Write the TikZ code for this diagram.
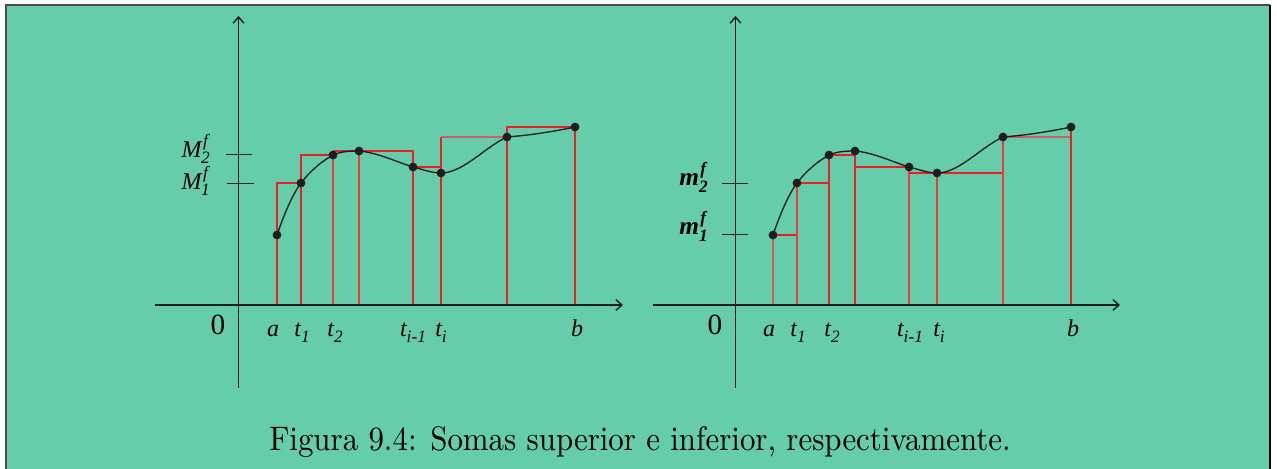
\documentclass[tikz,border=0pt]{standalone}
\usepackage{fontspec}
\usepackage{graphicx}
\usetikzlibrary{arrows.meta}
\newfontfamily\lbl{Liberation Serif}
\definecolor{bgc}{RGB}{102,205,170}
\definecolor{rl}{RGB}{235,30,38}
\definecolor{rg}{RGB}{205,95,95}
\definecolor{ax}{RGB}{30,30,30}
\newcommand{\curvepath}{(277,235) .. controls (284.8,212.3) and (292.9,193.8) .. (301,183)
  .. controls (311.6,169.3) and (322.4,161.1) .. (333,155)
  .. controls (341.7,151.2) and (350.7,151) .. (359,151)
  .. controls (377.6,152.6) and (395.4,161.5) .. (413,167)
  .. controls (422.3,169.2) and (431.3,173) .. (441,173)
  .. controls (463.1,173) and (485,147) .. (507,137)
  .. controls (530.1,135.2) and (552.9,131.7) .. (575,127)}
\newcommand{\supf}[4]{\makebox[0pt][l]{\kern#3\raisebox{#1}{\fontsize{13}{13}\selectfont\itshape f}}\raisebox{#2}{\fontsize{13}{13}\selectfont\itshape #4}}
\newcommand{\tsub}[1]{\raisebox{-4.5pt}{\fontsize{13}{13}\selectfont #1}}
\begin{document}
\begin{tikzpicture}[x=0.75pt,y=-0.75pt,
  axis/.style={draw=ax,line width=1.1pt,-{Straight Barb[length=4.5pt,width=8pt]}},
  tick/.style={draw=ax,line width=1pt},
  rect/.style={draw=rl,line width=1.15pt},
  rectd/.style={draw=rl!88!white,line width=1.15pt},
  rectg/.style={draw=rg,line width=1.2pt},
  curve/.style={draw=ax,line width=1pt},
  dot/.style={fill=ax,draw=none},
  ticklbl/.style={font=\lbl\fontsize{18}{20}\selectfont\itshape,inner sep=0pt},
  zerolbl/.style={font=\lbl\fontsize{22}{24}\selectfont,inner sep=0pt},
  ylbl/.style={font=\lbl\fontsize{18}{20}\selectfont,inner sep=0pt},
  mlbl/.style={font=\lbl\fontsize{19}{21}\selectfont\bfseries\itshape,inner sep=0pt},
  ]
\useasboundingbox (0,0) rectangle (1277,468);
\fill[white] (0,0) rectangle (1277,468);
\fill[bgc] (5.5,5) rectangle (1270,470);
\draw[draw=ax!80,line width=1.5pt] (5.5,470) -- (5.5,5) -- (1270,5);
\draw[draw=black,line width=1.6pt] (1270,5) -- (1270,470);

% ---------- left panel ----------
\coordinate (La) at (277,235);
\coordinate (L1) at (301,183);
\coordinate (L2) at (333,155);
\coordinate (L3) at (359,151);
\coordinate (L4) at (413,167);
\coordinate (L5) at (441,173);
\coordinate (L6) at (507,137);
\coordinate (Lb) at (575,127);
\coordinate (LxS) at (155,305);
\coordinate (LxE) at (623,305);
\coordinate (LyS) at (238.5,388);
\coordinate (LyE) at (238.5,16);

\draw[rect] (277,305) -- (277,183) -- (301,183);
\draw[rect] (301,305) -- (301,155) -- (333,155);
\draw[rectd] (333,305) -- (333,151);
\draw[rect] (333,151) -- (413,151) -- (413,305);
\draw[rectd] (359,305) -- (359,151);
\draw[rect] (413,167) -- (441,167);
\draw[rect] (441,305) -- (441,137);
\draw[rectg] (441,137) -- (507,137);
\draw[rect] (507,305) -- (507,127) -- (575,127) -- (575,305);

\draw[axis] (LxS) -- (LxE);
\draw[axis] (LyS) -- (LyE);
\draw[tick] (226,154.5) -- (252,154.5);
\draw[tick] (227,183.5) -- (254,183.5);

\draw[curve] \curvepath;
\foreach \p in {La,L1,L2,L3,L4,L5,L6,Lb} \fill[dot] (\p) circle (3.3pt);

\node[ylbl,anchor=base east] (LM2) at (214,157) {\itshape M\kern-0.5pt\supf{8pt}{-4.5pt}{1.5pt}{2}\kern3pt};
\node[ylbl,anchor=base east] (LM1) at (214,189) {\itshape M\kern-0.5pt\supf{8pt}{-4.5pt}{1.5pt}{1}\kern3pt};

\node[zerolbl,anchor=base] (L0) at (218,334) {0};
\node[ticklbl,anchor=base] (Lla) at (273,336) {a};
\node[ticklbl,anchor=base] (Lt1) at (302,336) {t\tsub{1}};
\node[ticklbl,anchor=base] (Lt2) at (335,336) {t\tsub{2}};
\node[ticklbl,anchor=base] (Lt4) at (413,336) {t\tsub{i-1}};
\node[ticklbl,anchor=base] (Lt5) at (441,336) {t\tsub{i}};
\node[ticklbl,anchor=base] (Llb) at (577,336) {b};

% ---------- right panel ----------
\begin{scope}[xshift=372pt]
\coordinate (Ra) at (277,235);
\coordinate (R1) at (301,183);
\coordinate (R2) at (333,155);
\coordinate (R3) at (359,151);
\coordinate (R4) at (413,167);
\coordinate (R5) at (441,173);
\coordinate (R6) at (507,137);
\coordinate (Rb) at (575,127);
\coordinate (RxS) at (156.7,305);
\coordinate (RxE) at (624,305);
\coordinate (RyS) at (239.5,388);
\coordinate (RyE) at (239.5,16);

\draw[rectg] (277,305) -- (277,235);
\draw[rect] (277,235) -- (301,235);
\draw[rectd] (301,305) -- (301,183);
\draw[rect] (301,183) -- (333,183);
\draw[rect] (333,305) -- (333,155) -- (359,155);
\draw[rect] (359,305) -- (359,151);
\draw[rect] (359,167) -- (413,167);
\draw[rectd] (413,305) -- (413,167);
\draw[rect] (413,173) -- (507,173);
\draw[rectd] (441,305) -- (441,173);
\draw[rectd] (507,305) -- (507,137);
\draw[rectg] (507,137) -- (575,137);
\draw[rect] (575,305) -- (575,127);

\draw[axis] (RxS) -- (RxE);
\draw[axis] (RyS) -- (RyE);
\draw[tick] (226.3,183.5) -- (252.3,183.5);
\draw[tick] (226.3,234.5) -- (252.3,234.5);

\draw[curve] \curvepath;
\foreach \p in {Ra,R1,R2,R3,R4,R5,R6,Rb} \fill[dot] (\p) circle (3.3pt);

\node[mlbl,anchor=base east] (Rm2) at (216,185) {m\supf{8pt}{-5.5pt}{1pt}{2}\kern3pt};
\node[mlbl,anchor=base east] (Rm1) at (216,234) {m\supf{8pt}{-5.5pt}{1pt}{1}\kern3pt};

\node[zerolbl,anchor=base] (R0) at (219,334) {0};
\node[ticklbl,anchor=base] (Rla) at (273,336) {a};
\node[ticklbl,anchor=base] (Rt1) at (302,336) {t\tsub{1}};
\node[ticklbl,anchor=base] (Rt2) at (336,336) {t\tsub{2}};
\node[ticklbl,anchor=base] (Rt4) at (414,336) {t\tsub{i-1}};
\node[ticklbl,anchor=base] (Rt5) at (443,336) {t\tsub{i}};
\node[ticklbl,anchor=base] (Rlb) at (577,336) {b};
\end{scope}

% ---------- caption ----------
\node[anchor=base,inner sep=0pt] (cap) at (640,450) {\scalebox{1}[1.1]{\resizebox{556pt}{!}{Figura 9.4: Somas superior e inferior, respectivamente.}}};
\end{tikzpicture}
\end{document}
